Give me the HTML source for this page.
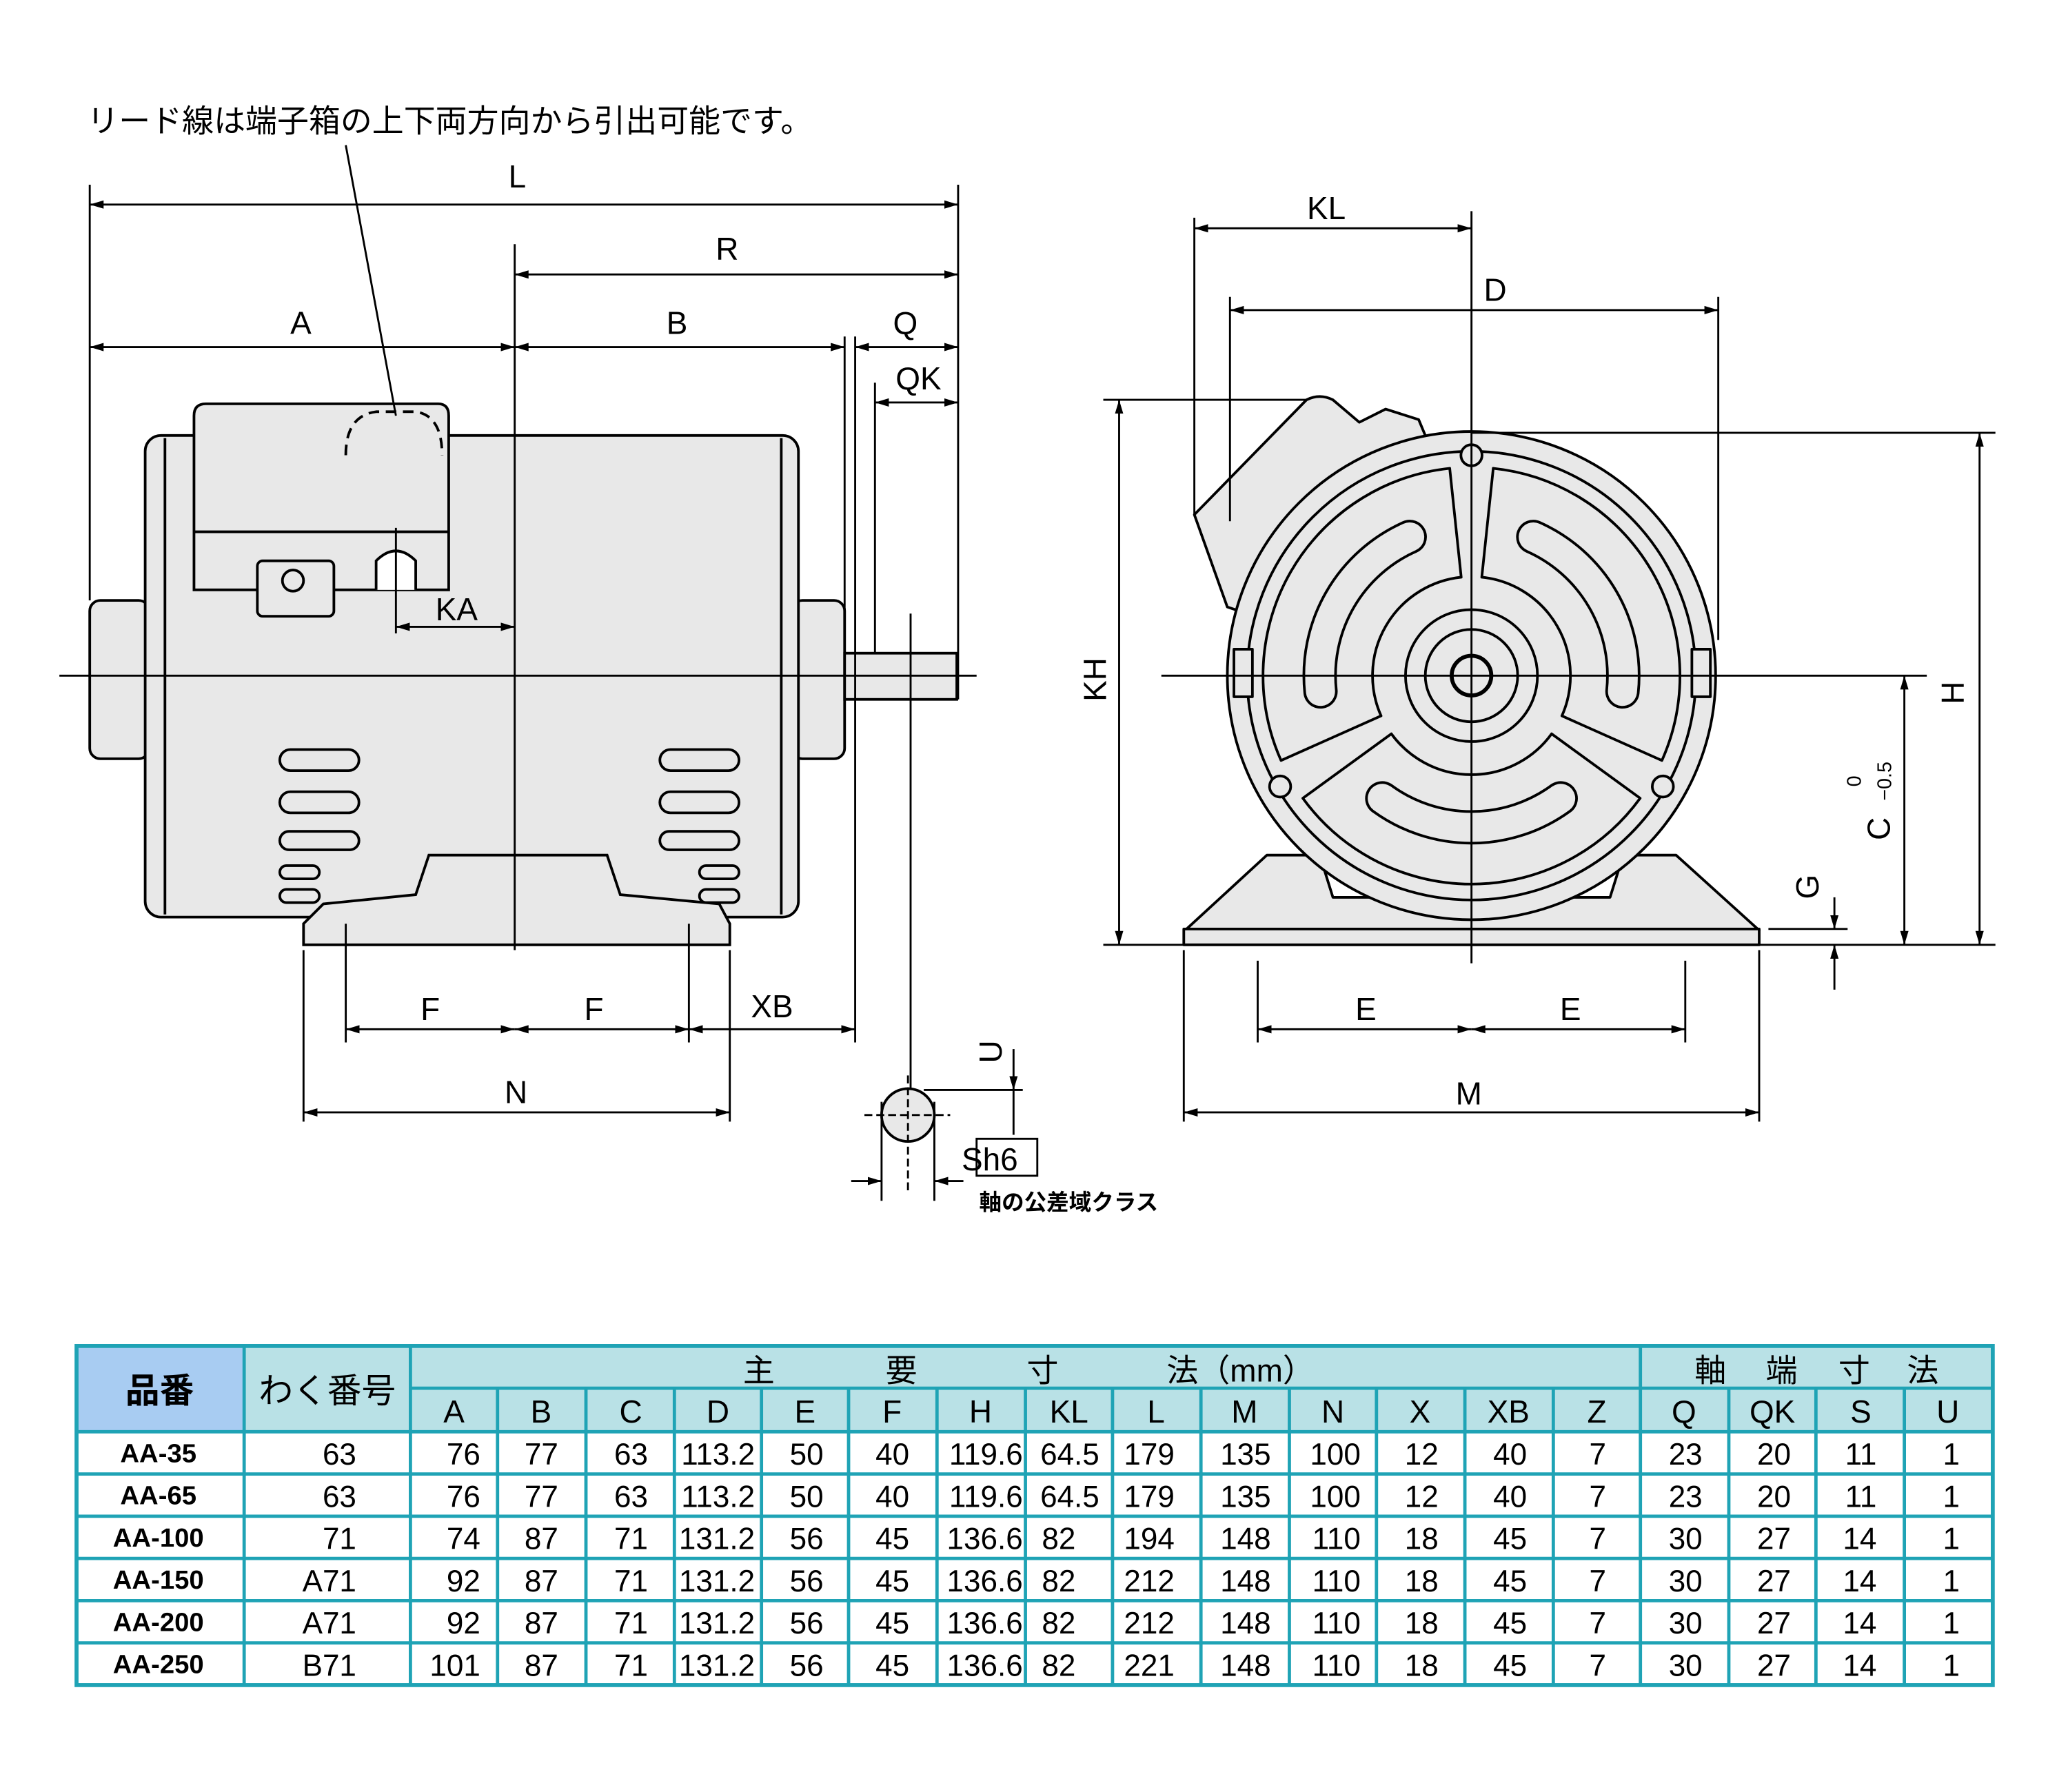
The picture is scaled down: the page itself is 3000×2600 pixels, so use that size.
<!DOCTYPE html>
<html><head><meta charset="utf-8"><style>
html,body{margin:0;padding:0;background:#fff;}
svg{display:block;}
text{font-family:"Liberation Sans","Noto Sans CJK JP",sans-serif;}
</style></head><body>
<svg width="3000" height="2600" viewBox="0 0 1567 1358" preserveAspectRatio="none" xmlns="http://www.w3.org/2000/svg">
<defs>
<marker id="a" viewBox="0 0 10 10" refX="10" refY="5" markerWidth="7" markerHeight="7" orient="auto-start-reverse"><path d="M0,2 L10,5 L0,8z" fill="#000"/></marker>
</defs>
<rect width="1567" height="1358" fill="#fff"/>
<g font-size="24" fill="#000">
<text x="66" y="100">リード線は端子箱の上下両方向から引出可能です。</text>
</g>
<!-- SIDE VIEW -->
<g stroke="#000" stroke-width="2" fill="#e8e8e8">
<rect x="68" y="455" width="45" height="120" rx="8"/>
<rect x="600" y="455" width="40" height="120" rx="8"/>
<rect x="110" y="330" width="495" height="365" rx="12"/>
<line x1="125" y1="332" x2="125" y2="693" fill="none"/>
<line x1="592" y1="332" x2="592" y2="693" fill="none"/>
<path d="M147,315 Q147,306 156,306 L332,306 Q340,306 340,315 L340,447 L147,447 Z"/>
<line x1="147" y1="403" x2="340" y2="403"/>
<rect x="195" y="425" width="58" height="42" rx="4"/>
<circle cx="222" cy="440" r="8"/>
<path d="M285,447 L285,425 Q300,410 315,425 L315,447" fill="#fff"/>
<path d="M230,700 L245,685 L315,678 L325,648 L460,648 L470,678 L545,685 L553,700 L553,716 L230,716 Z"/>
<rect x="640" y="495" width="85" height="35" fill="#e8e8e8"/>
<g fill="#e8e8e8">
<rect x="212" y="568" width="60" height="16" rx="8"/><rect x="212" y="600" width="60" height="16" rx="8"/><rect x="212" y="630" width="60" height="14" rx="7"/><rect x="212" y="656" width="30" height="10" rx="5"/><rect x="212" y="674" width="30" height="10" rx="5"/>
<rect x="500" y="568" width="60" height="16" rx="8"/><rect x="500" y="600" width="60" height="16" rx="8"/><rect x="500" y="630" width="60" height="14" rx="7"/><rect x="530" y="656" width="30" height="10" rx="5"/><rect x="530" y="674" width="30" height="10" rx="5"/>
</g>
</g>
<path d="M262,345 Q262,315 285,312 L315,312 Q335,315 335,345" fill="none" stroke="#000" stroke-width="2" stroke-dasharray="8,5"/>
<g stroke="#000" stroke-width="1.5" fill="none">
<line x1="45" y1="512" x2="740" y2="512"/>
<line x1="390" y1="185" x2="390" y2="720"/>
<line x1="68" y1="140" x2="68" y2="455"/>
<line x1="726" y1="140" x2="726" y2="530"/>
<line x1="640" y1="255" x2="640" y2="495"/>
<line x1="648" y1="255" x2="648" y2="790"/>
<line x1="663" y1="290" x2="663" y2="495"/>
<line x1="230" y1="720" x2="230" y2="850"/>
<line x1="553" y1="720" x2="553" y2="850"/>
<line x1="262" y1="700" x2="262" y2="790"/>
<line x1="522" y1="700" x2="522" y2="790"/>
<line x1="690" y1="465" x2="690" y2="830"/>
<line x1="262" y1="110" x2="300" y2="315"/>
<line x1="68" y1="155" x2="726" y2="155" marker-start="url(#a)" marker-end="url(#a)"/>
<line x1="390" y1="208" x2="726" y2="208" marker-start="url(#a)" marker-end="url(#a)"/>
<line x1="68" y1="263" x2="390" y2="263" marker-start="url(#a)" marker-end="url(#a)"/>
<line x1="390" y1="263" x2="640" y2="263" marker-start="url(#a)" marker-end="url(#a)"/>
<line x1="648" y1="263" x2="726" y2="263" marker-start="url(#a)" marker-end="url(#a)"/>
<line x1="663" y1="305" x2="726" y2="305" marker-start="url(#a)" marker-end="url(#a)"/>
<line x1="300" y1="475" x2="390" y2="475" marker-start="url(#a)" marker-end="url(#a)"/>
<line x1="300" y1="400" x2="300" y2="480"/>
<line x1="262" y1="780" x2="390" y2="780" marker-start="url(#a)" marker-end="url(#a)"/>
<line x1="390" y1="780" x2="522" y2="780" marker-start="url(#a)" marker-end="url(#a)"/>
<line x1="522" y1="780" x2="648" y2="780" marker-start="url(#a)" marker-end="url(#a)"/>
<line x1="230" y1="843" x2="553" y2="843" marker-start="url(#a)" marker-end="url(#a)"/>
<circle cx="688" cy="845" r="20" fill="#e8e8e8" stroke-width="2"/>
<line x1="655" y1="845" x2="720" y2="845" stroke-dasharray="6,3"/>
<line x1="688" y1="815" x2="688" y2="905" stroke-dasharray="6,3"/>
<line x1="668" y1="835" x2="668" y2="910"/>
<line x1="708" y1="835" x2="708" y2="910"/>
<line x1="645" y1="895" x2="668" y2="895" marker-end="url(#a)"/>
<line x1="730" y1="895" x2="708" y2="895" marker-end="url(#a)"/>
<line x1="700" y1="826" x2="775" y2="826"/>
<line x1="768" y1="795" x2="768" y2="826" marker-end="url(#a)"/>
<line x1="768" y1="860" x2="768" y2="826"/>
</g>
<rect x="740" y="863" width="46" height="28" fill="#fff" stroke="#000" stroke-width="1.5"/>
<g font-size="24" fill="#000" text-anchor="middle">
<text x="392" y="142">L</text><text x="551" y="197">R</text><text x="228" y="253">A</text><text x="513" y="253">B</text><text x="686" y="253">Q</text><text x="696" y="295">QK</text><text x="346" y="470">KA</text>
<text x="326" y="773">F</text><text x="450" y="773">F</text><text x="585" y="771">XB</text><text x="391" y="836">N</text>
<text x="750" y="887">Sh6</text>
<text x="752" y="804" transform="rotate(-90 752 797)">U</text>
</g>
<text x="742" y="917" font-size="17" font-weight="bold">軸の公差域クラス</text>
<!-- FRONT VIEW -->
<g stroke="#000" stroke-width="2" fill="#e8e8e8" stroke-linejoin="round">
<path d="M898,705 L960,648 L1000,648 L1010,680 L1220,680 L1230,648 L1270,648 L1333,705 Z"/>
<rect x="897" y="704" width="436" height="12"/>
<path d="M905,390 L990,303 Q1000,298 1010,303 L1030,320 L1050,310 L1075,318 L1080,330 L960,470 L930,460 Z"/>
<circle cx="1115" cy="512" r="185"/>
<circle cx="1115" cy="512" r="170" fill="none"/>
<path d="M1242.8,604.9 A158,158 0 0 1 987.2,604.9 L1054.3,556.1 A75,75 0 0 0 1175.7,556.1 Z" fill="none"/>
<path d="M970.7,576.3 A158 158 0 0 1 1098.5,354.9 L1107.2,437.4 A75 75 0 0 0 1046.5,542.5 Z" fill="none"/>
<path d="M1131.5,354.9 A158 158 0 0 1 1259.3,576.3 L1183.5,542.5 A75 75 0 0 0 1122.8,437.4 Z" fill="none"/>
<g fill="none" stroke-linecap="round">
<path d="M1182.6,605 A115 115 0 0 1 1047.4,605" stroke-width="26"/>
<path d="M1000.6,524 A115 115 0 0 1 1068.2,406.9" stroke-width="26"/>
<path d="M1161.8,406.9 A115 115 0 0 1 1229.4,524" stroke-width="26"/>
<path d="M1182.6,605 A115 115 0 0 1 1047.4,605" stroke-width="22" stroke="#e8e8e8"/>
<path d="M1000.6,524 A115 115 0 0 1 1068.2,406.9" stroke-width="22" stroke="#e8e8e8"/>
<path d="M1161.8,406.9 A115 115 0 0 1 1229.4,524" stroke-width="22" stroke="#e8e8e8"/>
</g>
<circle cx="1115" cy="512" r="50" fill="none"/>
<circle cx="1115" cy="512" r="35" fill="none"/>
<circle cx="1115" cy="512" r="15" stroke-width="3"/>
<circle cx="1115" cy="345" r="8"/><circle cx="970" cy="596" r="8"/><circle cx="1260" cy="596" r="8"/>
<rect x="935" y="492" width="14" height="36"/><rect x="1282" y="492" width="14" height="36"/>
</g>
<g stroke="#000" stroke-width="1.5" fill="none">
<line x1="880" y1="512" x2="1460" y2="512"/>
<line x1="1115" y1="160" x2="1115" y2="730"/>
<line x1="905" y1="165" x2="905" y2="390"/>
<line x1="932" y1="225" x2="932" y2="395"/>
<line x1="1302" y1="225" x2="1302" y2="485"/>
<line x1="905" y1="173" x2="1115" y2="173" marker-start="url(#a)" marker-end="url(#a)"/>
<line x1="932" y1="235" x2="1302" y2="235" marker-start="url(#a)" marker-end="url(#a)"/>
<line x1="836" y1="303" x2="990" y2="303"/>
<line x1="1115" y1="328" x2="1512" y2="328"/>
<line x1="836" y1="716" x2="1512" y2="716"/>
<line x1="848" y1="303" x2="848" y2="716" marker-start="url(#a)" marker-end="url(#a)"/>
<line x1="1500" y1="328" x2="1500" y2="716" marker-start="url(#a)" marker-end="url(#a)"/>
<line x1="1443" y1="512" x2="1443" y2="716" marker-start="url(#a)" marker-end="url(#a)"/>
<line x1="1340" y1="704" x2="1400" y2="704"/>
<line x1="1390" y1="680" x2="1390" y2="704" marker-end="url(#a)"/>
<line x1="1390" y1="750" x2="1390" y2="716" marker-end="url(#a)"/>
<line x1="897" y1="720" x2="897" y2="850"/>
<line x1="1333" y1="720" x2="1333" y2="850"/>
<line x1="953" y1="728" x2="953" y2="790"/>
<line x1="1277" y1="728" x2="1277" y2="790"/>
<line x1="953" y1="780" x2="1115" y2="780" marker-start="url(#a)" marker-end="url(#a)"/>
<line x1="1115" y1="780" x2="1277" y2="780" marker-start="url(#a)" marker-end="url(#a)"/>
<line x1="897" y1="843" x2="1333" y2="843" marker-start="url(#a)" marker-end="url(#a)"/>
</g>
<g font-size="24" fill="#000" text-anchor="middle">
<text x="1005" y="166">KL</text><text x="1133" y="228">D</text>
<text x="1035" y="773">E</text><text x="1190" y="773">E</text><text x="1113" y="837">M</text>
<text x="0" y="0" transform="translate(838,515) rotate(-90)">KH</text>
<text x="0" y="0" transform="translate(1488,525) rotate(-90)">H</text>
<text x="0" y="0" transform="translate(1432,628) rotate(-90)">C</text>
<text x="0" y="0" font-size="15" transform="translate(1410,592) rotate(-90)">0</text>
<text x="0" y="0" font-size="15" transform="translate(1433,592) rotate(-90)">−0.5</text>
<text x="0" y="0" transform="translate(1378,672) rotate(-90)">G</text>
</g>
<!-- TABLE -->
<g>
<rect x="58" y="1020" width="127" height="65" fill="#a8ccf2"/>
<rect x="185" y="1020" width="1325" height="65" fill="#b9e1e6"/>
<g stroke="#1fa3b5" stroke-width="2.5" fill="none">
<rect x="58" y="1020" width="1452" height="257" stroke-width="3"/>
<line x1="311" y1="1052" x2="1510" y2="1052"/>
<line x1="58" y1="1085" x2="1510" y2="1085"/>
<line x1="58" y1="1117" x2="1510" y2="1117"/><line x1="58" y1="1149" x2="1510" y2="1149"/><line x1="58" y1="1181" x2="1510" y2="1181"/><line x1="58" y1="1213" x2="1510" y2="1213"/><line x1="58" y1="1245" x2="1510" y2="1245"/>
<line x1="185" y1="1020" x2="185" y2="1277"/><line x1="311" y1="1020" x2="311" y2="1277"/><line x1="1243" y1="1020" x2="1243" y2="1277"/>
<line x1="377" y1="1052" x2="377" y2="1277"/><line x1="444" y1="1052" x2="444" y2="1277"/><line x1="511" y1="1052" x2="511" y2="1277"/><line x1="577" y1="1052" x2="577" y2="1277"/><line x1="643" y1="1052" x2="643" y2="1277"/><line x1="710" y1="1052" x2="710" y2="1277"/><line x1="777" y1="1052" x2="777" y2="1277"/><line x1="843" y1="1052" x2="843" y2="1277"/><line x1="910" y1="1052" x2="910" y2="1277"/><line x1="977" y1="1052" x2="977" y2="1277"/><line x1="1043" y1="1052" x2="1043" y2="1277"/><line x1="1110" y1="1052" x2="1110" y2="1277"/><line x1="1177" y1="1052" x2="1177" y2="1277"/><line x1="1310" y1="1052" x2="1310" y2="1277"/><line x1="1376" y1="1052" x2="1376" y2="1277"/><line x1="1443" y1="1052" x2="1443" y2="1277"/>
</g>
<g fill="#000" font-size="24" text-anchor="middle">
<text x="121" y="1063" font-size="26" font-weight="bold">品番</text>
<text x="248" y="1063" font-size="26">わく番号</text>
<text x="575" y="1047">主</text><text x="683" y="1047">要</text><text x="790" y="1047">寸</text><text x="940" y="1047">法（mm）</text>
<text x="1296" y="1047">軸</text><text x="1350" y="1047">端</text><text x="1405" y="1047">寸</text><text x="1457" y="1047">法</text>
<text x="344" y="1078">A</text><text x="410" y="1078">B</text><text x="478" y="1078">C</text><text x="544" y="1078">D</text><text x="610" y="1078">E</text><text x="676" y="1078">F</text><text x="743" y="1078">H</text><text x="810" y="1078">KL</text><text x="876" y="1078">L</text><text x="943" y="1078">M</text><text x="1010" y="1078">N</text><text x="1076" y="1078">X</text><text x="1143" y="1078">XB</text><text x="1210" y="1078">Z</text><text x="1276" y="1078">Q</text><text x="1343" y="1078">QK</text><text x="1410" y="1078">S</text><text x="1476" y="1078">U</text>
</g>
<g fill="#000" font-size="22" text-anchor="middle">
<g font-weight="bold" font-size="20"><text x="120" y="1108">AA-35</text><text x="120" y="1140">AA-65</text><text x="120" y="1172">AA-100</text><text x="120" y="1204">AA-150</text><text x="120" y="1236">AA-200</text><text x="120" y="1268">AA-250</text></g>
</g>
<g fill="#000" font-size="23" text-anchor="end">
<text y="1110"><tspan x="270">63</tspan><tspan x="364">76</tspan><tspan x="423">77</tspan><tspan x="491">63</tspan><tspan x="572">113.2</tspan><tspan x="624">50</tspan><tspan x="689">40</tspan><tspan x="775">119.6</tspan><tspan x="833">64.5</tspan><tspan x="890">179</tspan><tspan x="963">135</tspan><tspan x="1031">100</tspan><tspan x="1090">12</tspan><tspan x="1157">40</tspan><tspan x="1217">7</tspan><tspan x="1290">23</tspan><tspan x="1357">20</tspan><tspan x="1422">11</tspan><tspan x="1485">1</tspan></text>
<text y="1142"><tspan x="270">63</tspan><tspan x="364">76</tspan><tspan x="423">77</tspan><tspan x="491">63</tspan><tspan x="572">113.2</tspan><tspan x="624">50</tspan><tspan x="689">40</tspan><tspan x="775">119.6</tspan><tspan x="833">64.5</tspan><tspan x="890">179</tspan><tspan x="963">135</tspan><tspan x="1031">100</tspan><tspan x="1090">12</tspan><tspan x="1157">40</tspan><tspan x="1217">7</tspan><tspan x="1290">23</tspan><tspan x="1357">20</tspan><tspan x="1422">11</tspan><tspan x="1485">1</tspan></text>
<text y="1174"><tspan x="270">71</tspan><tspan x="364">74</tspan><tspan x="423">87</tspan><tspan x="491">71</tspan><tspan x="572">131.2</tspan><tspan x="624">56</tspan><tspan x="689">45</tspan><tspan x="775">136.6</tspan><tspan x="815">82</tspan><tspan x="890">194</tspan><tspan x="963">148</tspan><tspan x="1031">110</tspan><tspan x="1090">18</tspan><tspan x="1157">45</tspan><tspan x="1217">7</tspan><tspan x="1290">30</tspan><tspan x="1357">27</tspan><tspan x="1422">14</tspan><tspan x="1485">1</tspan></text>
<text y="1206"><tspan x="270">A71</tspan><tspan x="364">92</tspan><tspan x="423">87</tspan><tspan x="491">71</tspan><tspan x="572">131.2</tspan><tspan x="624">56</tspan><tspan x="689">45</tspan><tspan x="775">136.6</tspan><tspan x="815">82</tspan><tspan x="890">212</tspan><tspan x="963">148</tspan><tspan x="1031">110</tspan><tspan x="1090">18</tspan><tspan x="1157">45</tspan><tspan x="1217">7</tspan><tspan x="1290">30</tspan><tspan x="1357">27</tspan><tspan x="1422">14</tspan><tspan x="1485">1</tspan></text>
<text y="1238"><tspan x="270">A71</tspan><tspan x="364">92</tspan><tspan x="423">87</tspan><tspan x="491">71</tspan><tspan x="572">131.2</tspan><tspan x="624">56</tspan><tspan x="689">45</tspan><tspan x="775">136.6</tspan><tspan x="815">82</tspan><tspan x="890">212</tspan><tspan x="963">148</tspan><tspan x="1031">110</tspan><tspan x="1090">18</tspan><tspan x="1157">45</tspan><tspan x="1217">7</tspan><tspan x="1290">30</tspan><tspan x="1357">27</tspan><tspan x="1422">14</tspan><tspan x="1485">1</tspan></text>
<text y="1270"><tspan x="270">B71</tspan><tspan x="364">101</tspan><tspan x="423">87</tspan><tspan x="491">71</tspan><tspan x="572">131.2</tspan><tspan x="624">56</tspan><tspan x="689">45</tspan><tspan x="775">136.6</tspan><tspan x="815">82</tspan><tspan x="890">221</tspan><tspan x="963">148</tspan><tspan x="1031">110</tspan><tspan x="1090">18</tspan><tspan x="1157">45</tspan><tspan x="1217">7</tspan><tspan x="1290">30</tspan><tspan x="1357">27</tspan><tspan x="1422">14</tspan><tspan x="1485">1</tspan></text>
</g>
</g>
</svg>
</body></html>
